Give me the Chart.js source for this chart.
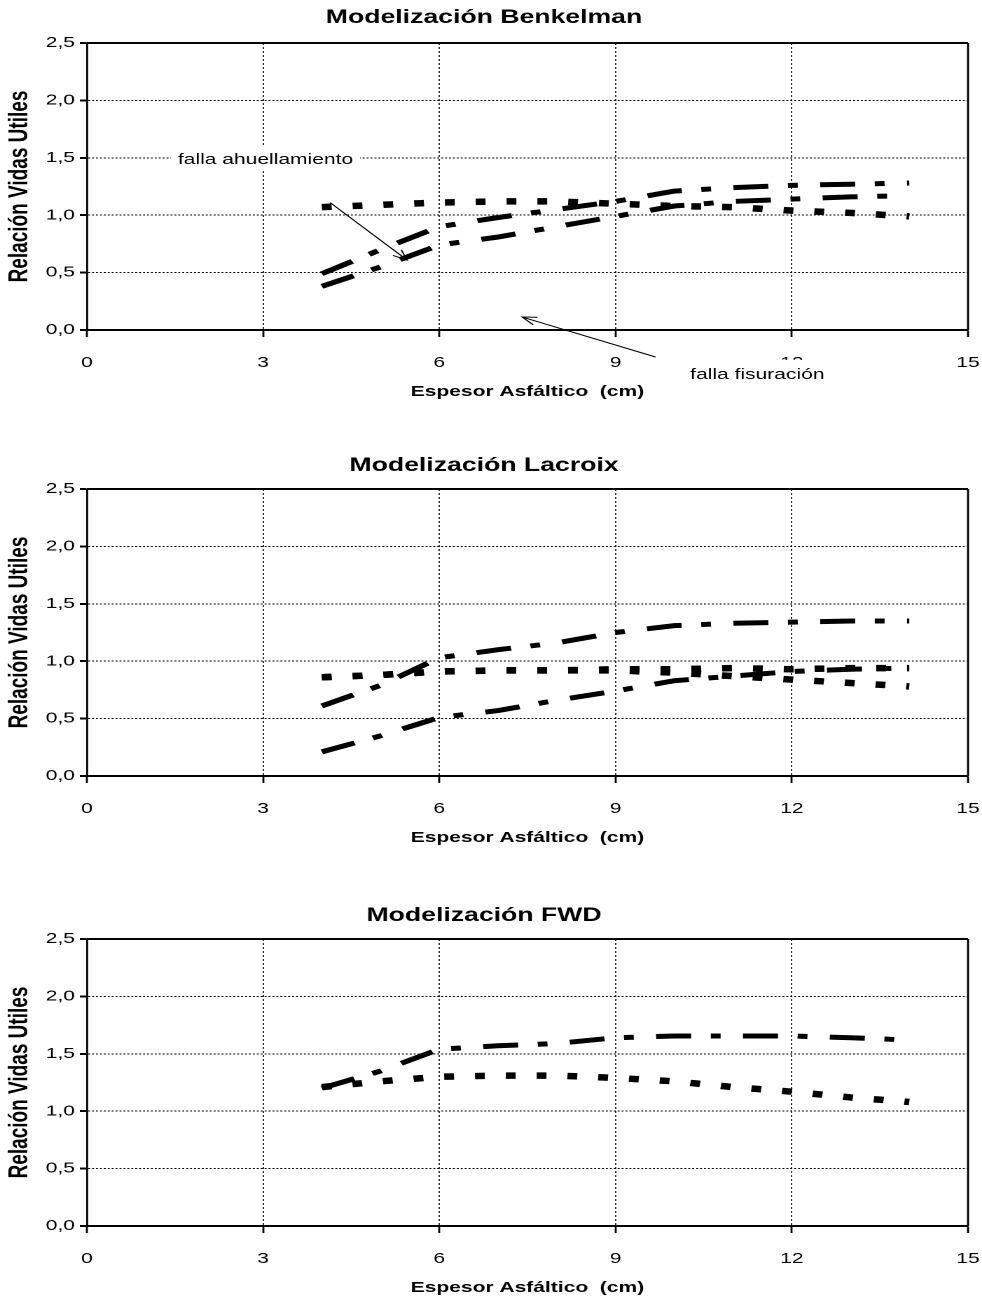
<!DOCTYPE html>
<html>
<head>
<meta charset="utf-8">
<script src="https://cdn.jsdelivr.net/npm/chart.js@4.4.1/dist/chart.umd.min.js"></script>
<style>
  body { margin: 0; background: #fff; width: 982px; height: 1300px; position: relative; overflow: hidden; }
  /* charts are laid out narrow and widened, like the original sheet export */
  .panel { position: absolute; left: 0; width: 701px; height: 410px; transform: scaleX(1.4009); transform-origin: 0 0; }
</style>
</head>
<body>
<div class="panel" style="top:0px"><canvas id="benkelman"></canvas></div>
<div class="panel" style="top:446px"><canvas id="lacroix"></canvas></div>
<div class="panel" style="top:896px"><canvas id="fwd"></canvas></div>

<script>
// espesor asfáltico (cm)
const espesor = [4, 5, 6, 7, 8, 9, 10, 11, 12, 13, 14];

// Modelización Benkelman
const benkelmanDot   = [1.07, 1.09, 1.11, 1.12, 1.12, 1.10, 1.08, 1.07, 1.04, 1.02, 0.99];
const benkelmanUpper = [0.49, 0.70, 0.90, 0.98, 1.05, 1.12, 1.21, 1.24, 1.26, 1.27, 1.28];
const benkelmanLower = [0.38, 0.55, 0.74, 0.81, 0.90, 0.99, 1.08, 1.12, 1.14, 1.16, 1.17];

// Modelización Lacroix
const lacroixUpper = [0.61, 0.79, 1.03, 1.10, 1.16, 1.25, 1.31, 1.33, 1.34, 1.35, 1.35];
const lacroixLower = [0.21, 0.35, 0.51, 0.57, 0.66, 0.74, 0.83, 0.87, 0.91, 0.93, 0.94];
const lacroixDotA  = [0.86, 0.88, 0.91, 0.92, 0.92, 0.93, 0.93, 0.94, 0.93, 0.94, 0.94];
const lacroixDotB  = [0.86, 0.88, 0.91, 0.92, 0.92, 0.92, 0.90, 0.87, 0.84, 0.81, 0.78];

// Modelización FWD
const fwdDashDot = [1.20, 1.35, 1.54, 1.57, 1.59, 1.64, 1.655, 1.655, 1.655, 1.64, 1.62];
const fwdDot     = [1.21, 1.26, 1.30, 1.31, 1.31, 1.29, 1.26, 1.21, 1.17, 1.12, 1.08];

// axis ticks
const xTicks = { min: 0, max: 15, step: 3 };
const yTicks = { min: 0, max: 2.5, step: 0.5 };

const FONT = '"Liberation Sans", Arial, sans-serif';
Chart.defaults.font.family = FONT;
Chart.defaults.color = '#000';

// line styles
const DOTTED  = { width: 6.5, dash: [7, 15] };
const DASHDOT = { width: 5, dash: [25, 14, 7, 16] };

// top and right edges of the plot box
const plotFrame = {
  id: 'plotFrame',
  beforeDatasetsDraw(chart) {
    const { ctx, chartArea: a } = chart;
    ctx.save();
    ctx.strokeStyle = '#000';
    ctx.lineWidth = 2;
    ctx.beginPath();
    ctx.moveTo(a.left, a.top);
    ctx.lineTo(a.right, a.top);
    ctx.stroke();
    ctx.lineWidth = 1.4;
    ctx.beginPath();
    ctx.moveTo(a.right, a.top);
    ctx.lineTo(a.right, a.bottom);
    ctx.stroke();
    ctx.restore();
  }
};

// text notes with arrows, placed in data units
const callouts = {
  id: 'callouts',
  afterDraw(chart, args, opts) {
    const items = opts.items || [];
    const { ctx } = chart;
    const sx = chart.scales.x, sy = chart.scales.y;
    ctx.save();
    items.forEach(c => {
      const x1 = sx.getPixelForValue(c.from[0]), y1 = sy.getPixelForValue(c.from[1]);
      const x2 = sx.getPixelForValue(c.to[0]), y2 = sy.getPixelForValue(c.to[1]);
      const ang = Math.atan2(y2 - y1, x2 - x1);
      const len = 11, spread = 0.38;
      ctx.strokeStyle = '#000';
      ctx.lineWidth = 1;
      ctx.beginPath();
      ctx.moveTo(x1, y1);
      ctx.lineTo(x2, y2);
      ctx.moveTo(x2 - len * Math.cos(ang - spread), y2 - len * Math.sin(ang - spread));
      ctx.lineTo(x2, y2);
      ctx.lineTo(x2 - len * Math.cos(ang + spread), y2 - len * Math.sin(ang + spread));
      ctx.stroke();

      // opaque text box, hides whatever sits under it
      ctx.font = '15px ' + FONT;
      const tx = sx.getPixelForValue(c.at[0]), ty = sy.getPixelForValue(c.at[1]);
      const w = ctx.measureText(c.text).width;
      ctx.fillStyle = '#fff';
      ctx.fillRect(tx - 5, ty - 15, w + 10, 25);
      ctx.fillStyle = '#000';
      ctx.textBaseline = 'middle';
      ctx.textAlign = 'left';
      ctx.fillText(c.text, tx, ty);
    });
    ctx.restore();
  }
};

function buildChart(id, title, series, titlePad, notes) {
  const datasets = series.map(s => ({
    data: espesor.map((x, i) => ({ x, y: s.values[i] })),
    borderColor: '#000',
    borderWidth: s.style.width,
    borderDash: s.style.dash,
    borderCapStyle: 'butt',
    pointRadius: 0,
    tension: 0,
    fill: false
  }));

  return new Chart(document.getElementById(id), {
    type: 'line',
    data: { datasets },
    plugins: [plotFrame, callouts],
    options: {
      responsive: true,
      maintainAspectRatio: false,
      animation: false,
      devicePixelRatio: 2,
      layout: { padding: { left: 0, right: 10, top: 0, bottom: 0 } },
      plugins: {
        legend: { display: false },
        tooltip: { enabled: false },
        title: {
          display: true,
          text: title,
          color: '#000',
          font: { size: 19, weight: 'bold' },
          padding: titlePad
        },
        callouts: { items: notes || [] }
      },
      scales: {
        x: {
          type: 'linear',
          min: xTicks.min,
          max: xTicks.max,
          // fixed axis band; the label gap should not push the plot's right edge in
          afterFit: s => { s.height = 80; s.paddingRight = 8; s.paddingLeft = 5; },
          ticks: { stepSize: xTicks.step, padding: 17, maxRotation: 0, color: '#000', font: { size: 15 } },
          grid: {
            color: c => (c.tick && c.tick.value === xTicks.max) ? 'transparent' : '#000',
            lineWidth: 0.8,
            tickLength: 7,
            tickColor: '#000',
            tickWidth: 1.4
          },
          border: { display: true, color: '#000', width: 2, dash: [2, 2] },
          title: {
            display: true,
            text: 'Espesor Asfáltico  (cm)',
            color: '#000',
            font: { size: 15, weight: 'bold' },
            padding: { top: 0, bottom: 9 }
          }
        },
        y: {
          min: yTicks.min,
          max: yTicks.max,
          afterFit: s => { s.width = 62; },
          ticks: {
            stepSize: yTicks.step,
            padding: 3.5,
            color: '#000',
            font: { size: 15 },
            callback: v => v.toFixed(1).replace('.', ',')
          },
          grid: {
            color: c => (c.tick && c.tick.value === yTicks.max) ? 'transparent' : '#000',
            lineWidth: 1,
            tickLength: 5,
            tickColor: '#000',
            tickWidth: 2
          },
          border: { display: true, color: '#000', width: 1.4, dash: [1.4, 1.4] },
          title: {
            display: true,
            text: 'Relación Vidas Utiles',
            color: '#000',
            font: { size: 19, weight: 'bold' },
            padding: { top: 3, bottom: 0 }
          }
        }
      }
    }
  });
}

buildChart('benkelman', 'Modelización Benkelman', [
  { values: benkelmanDot, style: DOTTED },
  { values: benkelmanUpper, style: DASHDOT },
  { values: benkelmanLower, style: DASHDOT }
], { top: 6.5, bottom: 13.7 }, [
  { text: 'falla ahuellamiento', at: [1.55, 1.48], from: [4.14, 1.11], to: [5.45, 0.61] },
  { text: 'falla fisuración', at: [10.27, -0.39], from: [9.68, -0.235], to: [7.41, 0.113] }
]);

buildChart('lacroix', 'Modelización Lacroix', [
  { values: lacroixDotA, style: DOTTED },
  { values: lacroixDotB, style: DOTTED },
  { values: lacroixUpper, style: DASHDOT },
  { values: lacroixLower, style: DASHDOT }
], { top: 8.6, bottom: 11.6 });

buildChart('fwd', 'Modelización FWD', [
  { values: fwdDot, style: DOTTED },
  { values: fwdDashDot, style: DASHDOT }
], { top: 8.6, bottom: 11.6 });
</script>
</body>
</html>
